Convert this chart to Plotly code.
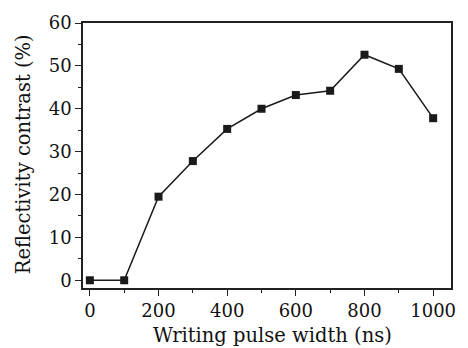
import plotly.graph_objects as go

pulse_width = [0, 100, 200, 300, 400, 500, 600, 700, 800, 900, 1000]
contrast = [0, 0, 19.5, 27.8, 35.3, 40.0, 43.2, 44.2, 52.6, 49.3, 37.8]
x_title = "Writing pulse width (ns)"
y_title = "Reflectivity contrast (%)"

fig = go.Figure()
fig.add_trace(go.Scatter(
    x=pulse_width, y=contrast, mode="lines+markers",
    line=dict(color="#1a1a1a", width=1.5),
    marker=dict(symbol="square", size=8, color="#1a1a1a"),
    showlegend=False,
))

font = dict(family="DejaVu Serif", size=18, color="#111")
title_font = dict(family="DejaVu Serif", size=19.5, color="#111")
axis_common = dict(
    showgrid=False, zeroline=False, showline=True, linecolor="#222", linewidth=1.5,
    mirror=True, ticks="outside", ticklen=6, tickwidth=1.2, tickcolor="#222",
    tickfont=font,
)
fig.update_xaxes(range=[-20, 1052], tickvals=[0, 200, 400, 600, 800, 1000],
                 minor=dict(ticks="outside", ticklen=3, tickcolor="#222", dtick=100, tick0=0),
                 **axis_common)
fig.update_yaxes(range=[-1.8, 60], tickvals=[0, 10, 20, 30, 40, 50, 60],
                 minor=dict(ticks="outside", ticklen=3, tickcolor="#222", dtick=5, tick0=0),
                 **axis_common)
fig.add_annotation(text=x_title, xref="paper", yref="paper", x=0.515, y=0,
                   yshift=-47, xanchor="center", yanchor="middle",
                   showarrow=False, font=title_font)
fig.add_annotation(text=y_title, xref="paper", yref="paper", x=0, y=0.505,
                   xshift=-60, xanchor="center", yanchor="middle", textangle=-90,
                   showarrow=False, font=title_font)
fig.update_layout(
    width=468, height=348, margin=dict(l=83, r=12, t=15, b=60),
    plot_bgcolor="white", paper_bgcolor="white",
)
fig.write_html("out.html")
